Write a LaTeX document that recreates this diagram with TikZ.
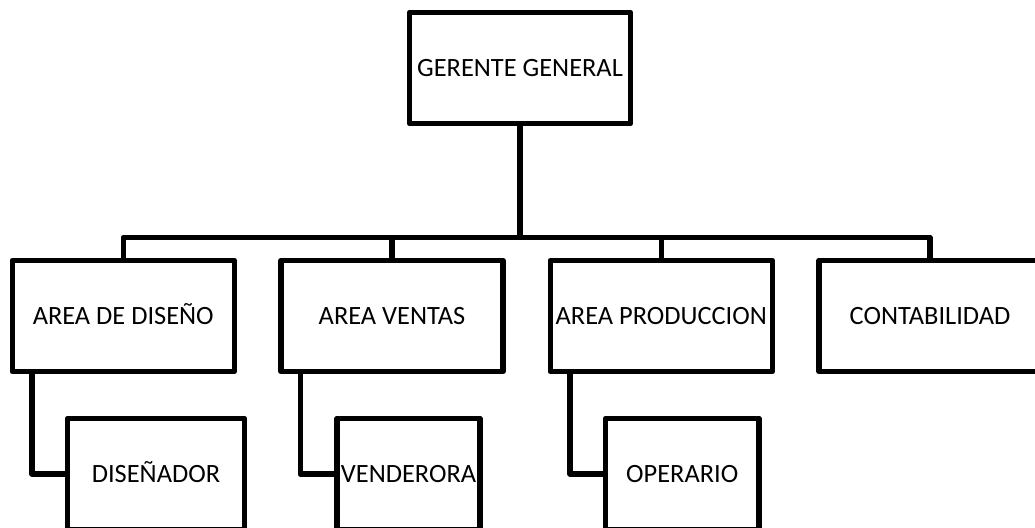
\documentclass[tikz,border=0pt]{standalone}
\usepackage{fontspec}
\setmainfont{Carlito}
\usepackage{tikz}

\tikzset{
  cargo/.style={draw, line width=5.5pt, line join=round, inner sep=0pt,
    minimum width=222pt, minimum height=111pt,
    text height=17pt, text depth=0pt,
    font=\fontsize{26.4}{30}\selectfont},
  enlace/.style={line width=5.5pt, line join=round}
}

\begin{document}
\begin{tikzpicture}[x=1pt,y=-1pt]
\useasboundingbox (0,0) rectangle (1035,527);
\clip (0,0) rectangle (1035,527);
\fill[white] (0,0) rectangle (1035,527);

% gerencia
\node[cargo, minimum width=221pt] (gg) at (520,68) {GERENTE GENERAL};

% areas
\node[cargo] (diseno) at (123.25,316) {AREA DE DISEÑO};
\node[cargo] (ventas) at (392,316) {AREA VENTAS};
\node[cargo] (produccion) at (661.25,316) {AREA PRODUCCION};
\node[cargo] (conta) at (930,316) {CONTABILIDAD};

% personal
\node[cargo, minimum width=177pt] (disenador) at (156,474) {DISEÑADOR};
\node[cargo, minimum width=143pt] (vendedora) at (408.5,474) {VENDERORA};
\node[cargo, minimum width=153.5pt] (operario) at (682.25,474) {OPERARIO};

% barra principal
\coordinate (barra) at (520,237.5);
\draw[enlace] (gg.south) -- (barra);
\draw[enlace] (diseno.north) |- (conta.north |- barra) -- (conta.north);
\draw[enlace] (ventas.north) -- (ventas.north |- barra);
\draw[enlace] (produccion.north) -- (produccion.north |- barra);

% areas a personal
\draw[enlace] ([xshift=22.5pt]diseno.south west) |- (disenador.west);
\draw[enlace] ([xshift=22pt]ventas.south west) |- (vendedora.west);
\draw[enlace] ([xshift=22.5pt]produccion.south west) |- (operario.west);
\end{tikzpicture}
\end{document}
